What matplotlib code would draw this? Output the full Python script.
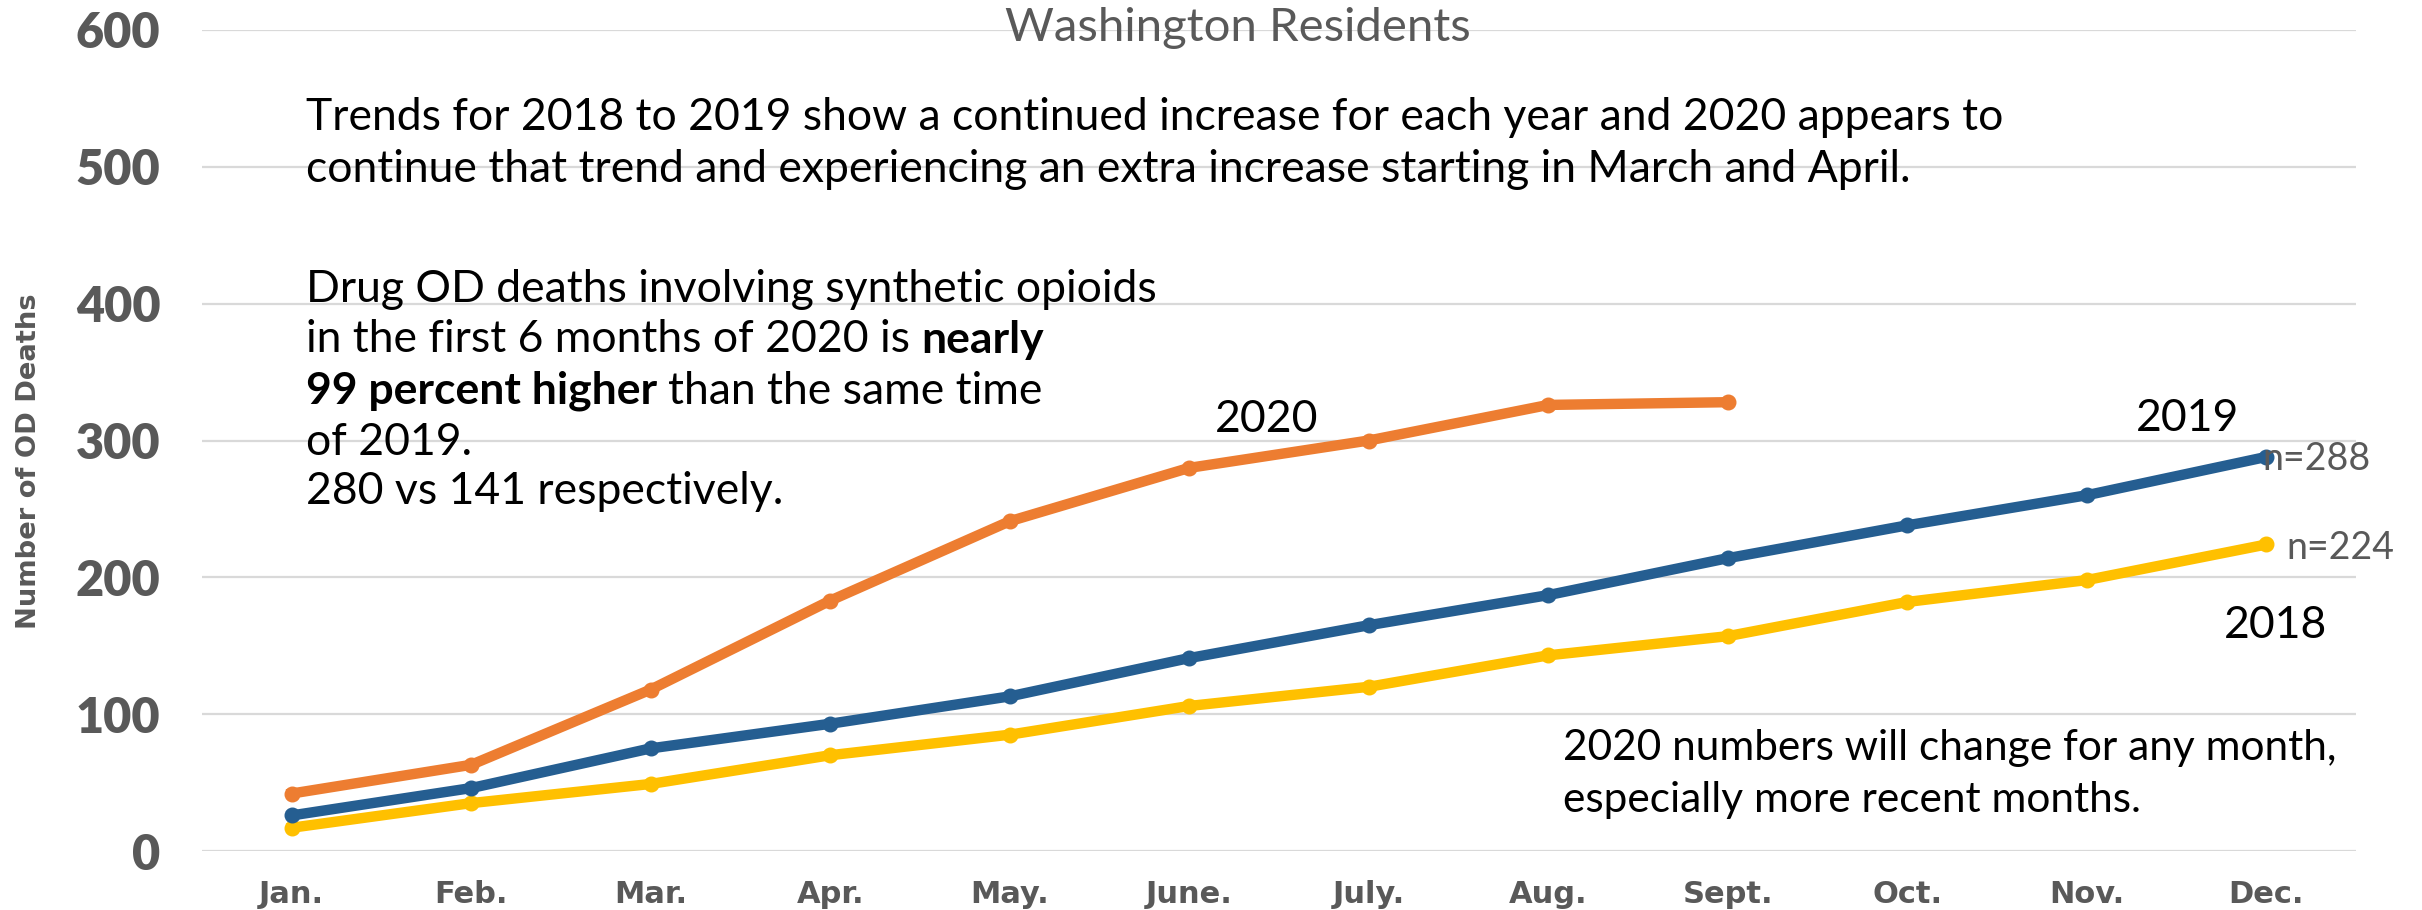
import matplotlib
matplotlib.use("Agg")
import matplotlib.pyplot as plt
import numpy as np

months = ["Jan.", "Feb.", "Mar.", "Apr.", "May.", "June.", "July.", "Aug.",
          "Sept.", "Oct.", "Nov.", "Dec."]
deaths_2018 = [17, 35, 49, 70, 85, 106, 120, 143, 157, 182, 198, 224]
deaths_2019 = [26, 46, 75, 93, 113, 141, 165, 187, 214, 238, 260, 288]
deaths_2020 = [42, 63, 118, 183, 241, 280, 300, 326, 328]
y_ticks = [0, 100, 200, 300, 400, 500, 600]

W, H = 2422, 910
GRAY = "#595959"
BODY = ["Lato", "DejaVu Sans"]


def fx(px):
    return px / W


def fy(py):
    return 1 - py / H


def draw_runs(fig, x, y, runs, **kw):
    # place regular/bold pieces one after another on the same line
    renderer = fig.canvas.get_renderer()
    t1 = fig.text(0, 0, "xx", **kw)
    t2 = fig.text(0, 0, "x x", **kw)
    gap = (t2.get_window_extent(renderer).width
           - t1.get_window_extent(renderer).width) / fig.bbox.width
    t1.remove()
    t2.remove()
    for i, (s, weight) in enumerate(runs):
        if i > 0:
            x += gap
        t = fig.text(x, y, s, fontweight=weight, **kw)
        x += t.get_window_extent(renderer).width / fig.bbox.width


fig = plt.figure(figsize=(W / 100, H / 100), dpi=100)
ax = fig.add_axes([fx(202), fy(851), fx(2356 - 202), (851 - 30) / H])

x = np.arange(len(months))
ax.plot(x, deaths_2018, color="#FFC000", lw=7.5, marker="o", ms=10.5, zorder=3)
ax.plot(x, deaths_2019, color="#255E91", lw=7.5, marker="o", ms=10.5, zorder=4)
ax.plot(x[:len(deaths_2020)], deaths_2020, color="#ED7D31", lw=7.5,
        marker="o", ms=10.5, zorder=5)

ax.set_xlim(-0.5, len(months) - 0.5)
ax.set_ylim(0, 600)
ax.set_yticks(y_ticks)
ax.set_xticks(x)
ax.set_xticklabels(months, fontsize=22, fontweight="bold", color=GRAY,
                   family="DejaVu Sans")
ax.set_yticklabels([str(v) for v in y_ticks], fontsize=35, fontweight="heavy",
                   color=GRAY, family=BODY)
ax.tick_params(axis="both", length=0)
ax.tick_params(axis="y", pad=30)
ax.tick_params(axis="x", pad=21)
ax.grid(axis="y", color="#D9D9D9", lw=1.6, zorder=0)
ax.set_axisbelow(True)
for sp in ax.spines.values():
    sp.set_visible(False)

fig.text(fx(29), fy(461), "Number of OD Deaths", rotation=90, fontsize=19.7,
         fontweight="bold", color=GRAY, ha="center", va="center")

fig.text(fx(1238), fy(28), "Washington Residents", fontsize=34, color=GRAY,
         family=BODY, ha="center", va="center")

txt = dict(fontsize=32, color="black", family=BODY, va="center")
fig.text(fx(306), fy(117), "Trends for 2018 to 2019 show a continued increase "
         "for each year and 2020 appears to", **txt)
fig.text(fx(306), fy(170), "continue that trend and experiencing an extra "
         "increase starting in March and April.", **txt)

fig.text(fx(306), fy(289), "Drug OD deaths involving synthetic opioids", **txt)
draw_runs(fig, fx(306), fy(340),
          [("in the first 6 months of 2020 is", "normal"), ("nearly", "bold")],
          **txt)
draw_runs(fig, fx(306), fy(391),
          [("99 percent higher", "bold"), ("than the same time", "normal")],
          **txt)
fig.text(fx(306), fy(442), "of 2019.", **txt)
fig.text(fx(306), fy(492), "280 vs 141 respectively.", **txt)

fig.text(fx(1267), fy(420), "2020", ha="center", **txt)
fig.text(fx(2187), fy(419), "2019", ha="center", **txt)
fig.text(fx(2275), fy(626), "2018", ha="center", **txt)

fig.text(fx(2262), fy(459), "n=288", fontsize=27, color=GRAY,
         family=BODY, va="center")
fig.text(fx(2286), fy(548), "n=224", fontsize=27, color=GRAY,
         family=BODY, va="center")

note = dict(txt, fontsize=30.5)
fig.text(fx(1563), fy(748), "2020 numbers will change for any month,", **note)
fig.text(fx(1563), fy(800), "especially more recent months.", **note)

fig.savefig("out.png", dpi=100)
plt.close(fig)
